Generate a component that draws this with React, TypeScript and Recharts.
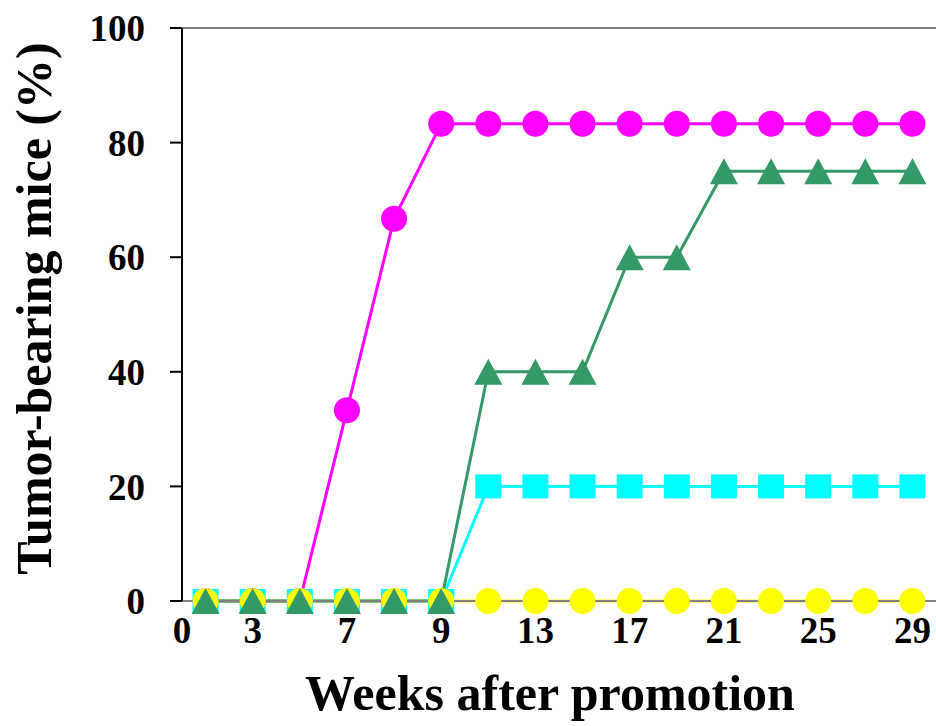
import React from 'react';
import { LineChart, Line, XAxis, YAxis, ReferenceLine, Label } from 'recharts';

// sampling points along the category axis (1 = first observation)
const points = [1, 2, 3, 4, 5, 6, 7, 8, 9, 10, 11, 12, 13, 14, 15, 16];

// tumor incidence (%) per group
const magentaGroup = [0, 0, 0, 33.3, 66.7, 83.3, 83.3, 83.3, 83.3, 83.3, 83.3, 83.3, 83.3, 83.3, 83.3, 83.3];
const cyanGroup = [0, 0, 0, 0, 0, 0, 20, 20, 20, 20, 20, 20, 20, 20, 20, 20];
const yellowGroup = [0, 0, 0, 0, 0, 0, 0, 0, 0, 0, 0, 0, 0, 0, 0, 0];
const greenGroup = [0, 0, 0, 0, 0, 0, 40, 40, 40, 60, 60, 75, 75, 75, 75, 75];

const xTickPositions = [0.5, 2, 4, 6, 8, 10, 12, 14, 16];
const xTickLabels = ['0', '3', '7', '9', '13', '17', '21', '25', '29'];
const yTicks = [0, 20, 40, 60, 80, 100];

const data = points.map((p, i) => ({
  x: p,
  magenta: magentaGroup[i],
  cyan: cyanGroup[i],
  yellow: yellowGroup[i],
  green: greenGroup[i],
}));

const FONT = '"Liberation Serif", "Times New Roman", serif';

const circleDot = (color: string) => (props: any) => (
  <circle key={`c-${color}-${props.index}`} cx={props.cx} cy={props.cy} r={13} fill={color} />
);

const squareDot = (color: string) => (props: any) => (
  <rect key={`s-${props.index}`} x={props.cx - 13} y={props.cy - 12} width={26} height={24} fill={color} />
);

const triangleDot = (color: string) => (props: any) => {
  const { cx, cy } = props;
  return (
    <polygon
      key={`t-${props.index}`}
      points={`${cx},${cy - 13} ${cx + 14},${cy + 13} ${cx - 14},${cy + 13}`}
      fill={color}
    />
  );
};

const YTitle = (props: any) => {
  const vb = props.viewBox || { y: 28, height: 573 };
  const x = 51;
  const y = vb.y + vb.height / 2 - 6;
  return (
    <text
      x={x}
      y={y}
      transform={`rotate(-90 ${x} ${y})`}
      textAnchor="middle"
      fontFamily={FONT}
      fontWeight="bold"
      fontSize={50}
      fill="#000"
    >
      Tumor-bearing mice (%)
    </text>
  );
};

const XTitle = (props: any) => {
  const vb = props.viewBox || { x: 182, width: 754 };
  const x = vb.x + vb.width / 2 - 9;
  return (
    <text x={x} y={710} textAnchor="middle" fontFamily={FONT} fontWeight="bold" fontSize={50} fill="#000">
      Weeks after promotion
    </text>
  );
};

export default function App() {
  return (
    <div style={{ position: 'absolute', left: 0, top: 0, background: '#fff' }}>
      <LineChart width={936} height={726} data={data} margin={{ top: 28, right: 0, bottom: 0, left: 0 }}>
        <ReferenceLine y={100} stroke="#808080" strokeWidth={2} />
        <XAxis
          dataKey="x"
          type="number"
          domain={[0.5, 16.5]}
          ticks={xTickPositions}
          tickFormatter={(v: number) => xTickLabels[xTickPositions.indexOf(v)]}
          allowDataOverflow
          height={125}
          axisLine={{ stroke: '#808080', strokeWidth: 2 }}
          tickLine={false}
          tickSize={0}
          tickMargin={16}
          tick={{ fontSize: 37, fontWeight: 'bold', fontFamily: FONT, fill: '#000' }}
          label={<Label content={XTitle} />}
        />
        <YAxis
          domain={[0, 100]}
          ticks={yTicks}
          width={182}
          axisLine={{ stroke: '#000', strokeWidth: 2 }}
          tickLine={{ stroke: '#000', strokeWidth: 2 }}
          tickSize={12}
          tickMargin={25}
          tick={{ fontSize: 37, fontWeight: 'bold', fontFamily: FONT, fill: '#000' }}
          label={<Label content={YTitle} />}
        />
        <Line
          dataKey="magenta"
          stroke="#ff00ff"
          strokeWidth={3}
          dot={circleDot('#ff00ff')}
          activeDot={false}
          isAnimationActive={false}
        />
        <Line
          dataKey="cyan"
          stroke="#00ffff"
          strokeWidth={3}
          dot={squareDot('#00ffff')}
          activeDot={false}
          isAnimationActive={false}
        />
        <Line
          dataKey="yellow"
          stroke="#ffff00"
          strokeWidth={3}
          dot={circleDot('#ffff00')}
          activeDot={false}
          isAnimationActive={false}
        />
        <Line
          dataKey="green"
          stroke="#339966"
          strokeWidth={3}
          dot={triangleDot('#339966')}
          activeDot={false}
          isAnimationActive={false}
        />
      </LineChart>
    </div>
  );
}
